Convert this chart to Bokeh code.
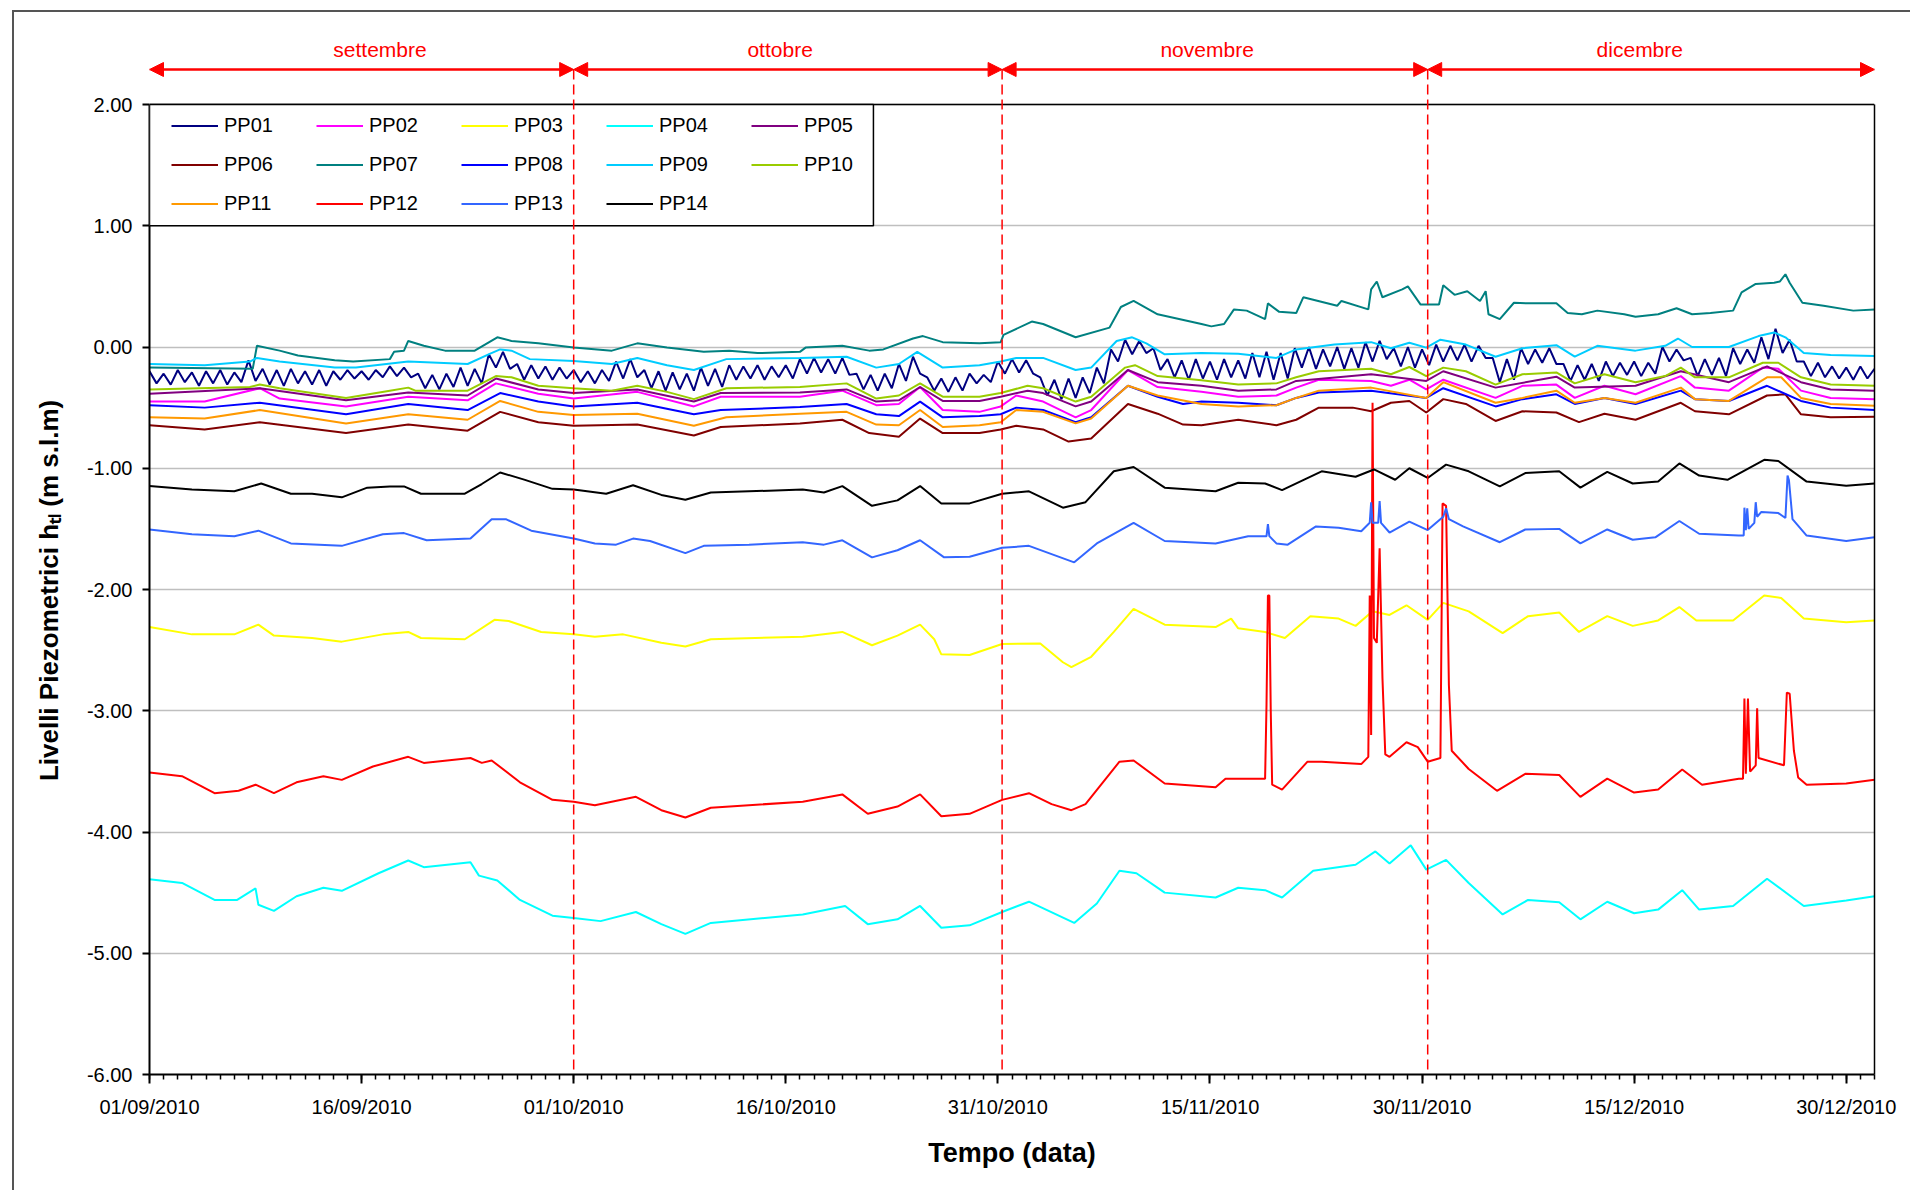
import numpy as np
import pandas as pd
from bokeh.plotting import figure
from bokeh.models import (Range1d, FixedTicker, DatetimeTickFormatter, NumeralTickFormatter,
                          Legend, LegendItem, Arrow, NormalHead, Label, Span, BoxAnnotation,
                          LinearAxis)
from bokeh.embed import file_html
from bokeh.resources import INLINE

# ---------------- data (days since 01/09/2010, level m s.l.m) ----------------
SERIES = ["PP01", "PP02", "PP03", "PP04", "PP05", "PP06", "PP07",
          "PP08", "PP09", "PP10", "PP11", "PP12", "PP13", "PP14"]
COLORS = ["#000080", "#FF00FF", "#FFFF00", "#00FFFF", "#800080", "#800000", "#008080",
          "#0000FF", "#00CCFF", "#99CC00", "#FF9900", "#FF0000", "#3366FF", "#000000"]

TICK_LABELS = ["01/09/2010", "16/09/2010", "01/10/2010", "16/10/2010", "31/10/2010",
               "15/11/2010", "30/11/2010", "15/12/2010", "30/12/2010"]
Y_TICKS = [-6, -5, -4, -3, -2, -1, 0, 1, 2]
MONTHS = ["settembre", "ottobre", "novembre", "dicembre"]

PP01_DAYS = list(np.arange(0, 122.5, 0.5))
PP01_VALS = [
    -0.20, -0.30, -0.22, -0.31, -0.19, -0.29, -0.21, -0.32, -0.20, -0.30,
    -0.19, -0.31, -0.21, -0.29, -0.11, -0.28, -0.18, -0.31, -0.19, -0.32,
    -0.18, -0.30, -0.20, -0.31, -0.19, -0.32, -0.20, -0.27, -0.19, -0.26,
    -0.20, -0.27, -0.19, -0.25, -0.16, -0.24, -0.17, -0.25, -0.22, -0.34,
    -0.23, -0.35, -0.22, -0.33, -0.17, -0.32, -0.18, -0.30, -0.06, -0.17,
    -0.04, -0.18, -0.14, -0.27, -0.15, -0.26, -0.16, -0.27, -0.17, -0.26,
    -0.19, -0.29, -0.20, -0.30, -0.19, -0.28, -0.12, -0.26, -0.10, -0.25,
    -0.19, -0.34, -0.20, -0.36, -0.21, -0.35, -0.22, -0.36, -0.17, -0.32,
    -0.18, -0.33, -0.15, -0.27, -0.16, -0.26, -0.15, -0.27, -0.16, -0.25,
    -0.15, -0.26, -0.10, -0.22, -0.09, -0.21, -0.10, -0.22, -0.09, -0.23,
    -0.22, -0.35, -0.23, -0.36, -0.22, -0.34, -0.14, -0.28, -0.08, -0.22,
    -0.25, -0.36, -0.26, -0.37, -0.25, -0.36, -0.22, -0.30, -0.23, -0.29,
    -0.12, -0.22, -0.10, -0.21, -0.11, -0.22, -0.25, -0.40, -0.27, -0.43,
    -0.26, -0.42, -0.25, -0.38, -0.17, -0.30, -0.02, -0.12, 0.06, -0.06,
    0.05, -0.05, -0.01, -0.19, -0.10, -0.25, -0.11, -0.27, -0.10, -0.26,
    -0.12, -0.27, -0.10, -0.25, -0.11, -0.26, -0.05, -0.25, -0.04, -0.27,
    -0.05, -0.26, -0.01, -0.17, 0.00, -0.18, -0.02, -0.16, 0.00, -0.18,
    -0.01, -0.17, 0.04, -0.12, 0.05, -0.10, -0.01, -0.16, 0.00, -0.17,
    -0.02, -0.15, 0.02, -0.12, 0.01, -0.11, 0.02, -0.12, 0.01, -0.09,
    -0.09, -0.29, -0.10, -0.27, -0.01, -0.14, -0.02, -0.13, -0.01, -0.14,
    -0.14, -0.28, -0.15, -0.27, -0.14, -0.28, -0.12, -0.24, -0.13, -0.23,
    -0.12, -0.24, -0.13, -0.22, 0.00, -0.12, -0.02, -0.11, -0.09, -0.24,
    -0.10, -0.23, -0.09, -0.24, -0.01, -0.14, -0.02, -0.13, 0.08, -0.10,
    0.15, -0.05, 0.06, -0.12, -0.12, -0.24, -0.13, -0.25, -0.16, -0.26,
    -0.17, -0.27, -0.16, -0.26, -0.18,
]

PP02_DAYS = [0, 3.9, 7.8, 9.2, 13.9, 18.3, 22.5, 24.5, 27.5, 30, 34.5, 38.5, 40.4, 46, 49,
             51.4, 53, 54.5, 56.1, 58.7, 60.2, 61.3, 63.2, 65.5, 66.6, 69.2, 71.3, 74.4, 77,
             79.7, 81.1, 82.7, 86.4, 87.8, 89.1, 90.3, 91.5, 95.2, 97.1, 99.5, 100.8, 102.9,
             105.1, 108.3, 109.3, 111.7, 114.1, 115.2, 116.8, 118.9, 122]
PP02_VALS = [-0.45, -0.45, -0.34, -0.425, -0.49, -0.41, -0.44, -0.30, -0.385, -0.425, -0.37,
             -0.49, -0.41, -0.41, -0.36, -0.48, -0.47, -0.33, -0.52, -0.535, -0.49, -0.40,
             -0.45, -0.58, -0.52, -0.19, -0.33, -0.37, -0.41, -0.40, -0.335, -0.27, -0.28,
             -0.32, -0.27, -0.35, -0.27, -0.42, -0.32, -0.31, -0.42, -0.32, -0.39, -0.24,
             -0.335, -0.36, -0.17, -0.18, -0.36, -0.42, -0.43]

PP03_DAYS = [0, 3, 6, 7.7, 8.8, 11.5, 13.6, 16.5, 18.3, 19.2, 22.3, 24.4, 25.4, 27.7, 30,
             31.5, 33.5, 36.2, 37.9, 39.7, 46.2, 49, 51.1, 52.9, 54.5, 55.5, 56, 58, 60.3,
             63, 64.6, 65.2, 66.6, 68.2, 69.6, 71.8, 75.4, 76.5, 77, 78.9, 80.3, 82.1, 84.1,
             85.3, 86.5, 87.7, 88.9, 90.4, 91.5, 93.3, 95.7, 97.5, 99.7, 101.1, 103.1, 104.9,
             106.7, 108.2, 109.4, 112, 114.2, 115.4, 117, 120, 122]
PP03_VALS = [-2.31, -2.37, -2.37, -2.29, -2.38, -2.40, -2.43, -2.37, -2.35, -2.40, -2.41,
             -2.25, -2.26, -2.35, -2.37, -2.39, -2.37, -2.44, -2.47, -2.41, -2.39, -2.35,
             -2.46, -2.38, -2.29, -2.41, -2.535, -2.54, -2.45, -2.445, -2.60, -2.64, -2.555,
             -2.35, -2.16, -2.29, -2.31, -2.24, -2.32, -2.35, -2.40, -2.22, -2.24, -2.30,
             -2.18, -2.21, -2.13, -2.25, -2.11, -2.18, -2.36, -2.22, -2.19, -2.35, -2.22,
             -2.30, -2.255, -2.145, -2.255, -2.255, -2.05, -2.07, -2.24, -2.27, -2.255]

PP04_DAYS = [0, 2.3, 4.6, 6.2, 7.5, 7.7, 8.8, 10.4, 12.3, 13.6, 16.2, 18.3, 19.4, 22.7, 23.3,
             24.6, 26.2, 28.5, 30, 31.9, 34.4, 36.2, 37.9, 39.7, 46.2, 49.2, 50.8, 52.9, 54.5,
             56, 58, 60.3, 62.2, 65.4, 67, 68.6, 69.8, 71.8, 75.4, 77, 78.9, 80.1, 82.3,
             85.3, 86.7, 87.7, 89.2, 90.3, 91.7, 93.3, 95.7, 97.5, 99.7, 101.2, 103.1, 105,
             106.7, 108.4, 109.6, 112, 114.4, 117, 120, 122]
PP04_VALS = [-4.39, -4.42, -4.56, -4.56, -4.465, -4.60, -4.65, -4.53, -4.46, -4.485, -4.34,
             -4.235, -4.29, -4.25, -4.36, -4.40, -4.56, -4.69, -4.71, -4.735, -4.66, -4.76,
             -4.84, -4.75, -4.68, -4.61, -4.76, -4.72, -4.61, -4.79, -4.77, -4.66, -4.575,
             -4.75, -4.59, -4.32, -4.34, -4.50, -4.54, -4.46, -4.48, -4.54, -4.32, -4.27,
             -4.16, -4.26, -4.11, -4.31, -4.23, -4.42, -4.68, -4.56, -4.58, -4.72, -4.575,
             -4.67, -4.64, -4.48, -4.64, -4.61, -4.385, -4.61, -4.565, -4.53]

PP05_DAYS = [0, 7.8, 13.9, 18.3, 22.5, 24.5, 27.5, 30, 34.5, 38.5, 40.4, 46, 49.3, 51.4, 53,
             54.5, 56.1, 58.7, 60.2, 62.1, 63.2, 65.5, 66.6, 69.2, 71.3, 74.4, 77, 79.7, 81.1,
             86.4, 90.3, 91.5, 95.2, 99.5, 100.8, 105.1, 108.3, 111.7, 114.4, 116.8, 118.9, 122]
PP05_VALS = [-0.385, -0.34, -0.44, -0.375, -0.40, -0.26, -0.35, -0.38, -0.35, -0.45, -0.38,
             -0.375, -0.35, -0.45, -0.44, -0.33, -0.445, -0.445, -0.41, -0.36, -0.38, -0.49,
             -0.45, -0.19, -0.29, -0.32, -0.36, -0.35, -0.28, -0.225, -0.28, -0.20, -0.335,
             -0.245, -0.335, -0.32, -0.20, -0.29, -0.16, -0.29, -0.35, -0.36]

PP06_DAYS = [0, 3.9, 7.8, 13.9, 18.3, 22.5, 24.8, 27.5, 30, 34.5, 38.5, 40.4, 46, 49, 50.9,
             53, 54.5, 56.1, 58.7, 60.2, 61.3, 63.2, 65, 66.6, 69.2, 71.3, 73.1, 74.4, 77,
             79.7, 81.1, 82.7, 85.1, 86.4, 87.8, 89.1, 90.3, 91.5, 93.1, 95.2, 97.1, 99.5,
             101.1, 102.9, 105.1, 108.3, 109.3, 111.7, 114.4, 115.7, 116.8, 118.9, 122]
PP06_VALS = [-0.645, -0.68, -0.62, -0.71, -0.64, -0.69, -0.535, -0.62, -0.65, -0.64, -0.73,
             -0.66, -0.63, -0.60, -0.71, -0.74, -0.59, -0.71, -0.71, -0.68, -0.65, -0.68,
             -0.78, -0.755, -0.47, -0.55, -0.64, -0.645, -0.60, -0.645, -0.60, -0.50, -0.50,
             -0.53, -0.46, -0.445, -0.54, -0.43, -0.47, -0.61, -0.53, -0.54, -0.62, -0.55,
             -0.60, -0.46, -0.53, -0.555, -0.40, -0.39, -0.555, -0.58, -0.575]

PP07_DAYS = [0, 7.3, 7.6, 9.2, 10.5, 13.1, 14.4, 17, 17.3, 18, 18.3, 19.4, 20.9, 23, 24.6,
             25.6, 27.5, 30, 32.7, 34.5, 36.6, 39.2, 41, 43, 46, 46.4, 49, 50.9, 51.9, 54,
             54.7, 56.1, 58.7, 60.2, 60.4, 62.4, 63.2, 65.5, 67.9, 68.7, 69.6, 71.3, 74.4,
             75.1, 76, 76.7, 77.6, 78.9, 79.1, 79.9, 81.1, 81.6, 84, 84.3, 86.2, 86.4, 86.8,
             87.2, 88.6, 89, 89.9, 91.2, 91.5, 92.3, 93.2, 94.1, 94.5, 94.7, 95.5, 96.5,
             97.6, 99.5, 100.3, 101.3, 102.4, 104.3, 105.1, 106.7, 108, 109.1, 110.4, 112,
             112.6, 113.6, 114.9, 115.3, 115.7, 116, 116.9, 118.4, 120.5, 122]
PP07_VALS = [-0.17, -0.18, 0.01, -0.03, -0.07, -0.11, -0.12, -0.10, -0.04, -0.03, 0.05, 0.01,
             -0.03, -0.03, 0.08, 0.05, 0.03, -0.005, -0.03, 0.03, -0.005, -0.04, -0.03, -0.05,
             -0.04, -0.005, 0.01, -0.03, -0.02, 0.07, 0.09, 0.04, 0.03, 0.04, 0.10, 0.21,
             0.19, 0.08, 0.16, 0.33, 0.38, 0.27, 0.19, 0.17, 0.19, 0.31, 0.30, 0.23, 0.36,
             0.29, 0.28, 0.41, 0.34, 0.38, 0.31, 0.475, 0.54, 0.41, 0.475, 0.50, 0.35, 0.35,
             0.51, 0.43, 0.46, 0.38, 0.46, 0.27, 0.23, 0.365, 0.36, 0.36, 0.28, 0.27, 0.30,
             0.27, 0.25, 0.27, 0.32, 0.27, 0.28, 0.30, 0.45, 0.52, 0.53, 0.54, 0.60, 0.53,
             0.365, 0.34, 0.30, 0.31]

PP08_DAYS = [0, 3.9, 7.8, 13.9, 18.3, 22.5, 24.8, 27.5, 30, 34.5, 38.5, 40.4, 46, 49.3, 51.4,
             53, 54.5, 56.1, 58.7, 60.2, 61.3, 63.2, 65.5, 66.6, 69.2, 71.3, 73.1, 74.4, 77,
             79.7, 81.1, 82.7, 86.4, 90.3, 91.5, 95.2, 97.1, 99.5, 100.8, 102.9, 105.1, 108.3,
             109.3, 111.7, 114.4, 116.8, 118.9, 122]
PP08_VALS = [-0.48, -0.50, -0.46, -0.555, -0.47, -0.52, -0.38, -0.45, -0.49, -0.46, -0.555,
             -0.52, -0.495, -0.47, -0.555, -0.57, -0.45, -0.58, -0.57, -0.555, -0.50, -0.52,
             -0.62, -0.58, -0.32, -0.41, -0.47, -0.45, -0.46, -0.48, -0.42, -0.375, -0.36,
             -0.42, -0.34, -0.49, -0.43, -0.39, -0.47, -0.42, -0.47, -0.36, -0.43, -0.445,
             -0.32, -0.445, -0.50, -0.52]

PP09_DAYS = [0, 3.9, 7.1, 7.6, 9.2, 13.1, 14.6, 18.3, 22.5, 24.1, 24.8, 25.6, 26.9, 30, 32.7,
             34.5, 36.6, 38.5, 40.8, 46, 49.3, 51.4, 53, 54.3, 56.1, 58.7, 60.2, 61.3, 63.2,
             65.5, 66.6, 68.4, 69.5, 70.5, 71.8, 74.4, 77, 79.7, 81.1, 83.8, 86.4, 87.8, 89.1,
             90.3, 91.3, 93.1, 95.2, 97.1, 99.5, 100.8, 102.4, 105.1, 107.2, 108.1, 109.1,
             111.7, 113.8, 114.9, 115.7, 117, 118.9, 122]
PP09_VALS = [-0.14, -0.15, -0.12, -0.09, -0.12, -0.17, -0.17, -0.12, -0.14, -0.055, -0.02,
             -0.03, -0.10, -0.115, -0.14, -0.09, -0.15, -0.19, -0.10, -0.09, -0.08, -0.17,
             -0.14, -0.04, -0.17, -0.15, -0.12, -0.09, -0.09, -0.19, -0.17, 0.05, 0.08, 0.03,
             -0.06, -0.05, -0.055, -0.09, -0.02, 0.02, 0.04, -0.01, 0.035, -0.005, 0.06, 0.02,
             -0.08, -0.01, 0.015, -0.08, 0.01, -0.03, 0.01, 0.07, 0.0, 0.0, 0.09, 0.12, 0.08,
             -0.05, -0.066, -0.074]

PP10_DAYS = [0, 7.1, 7.8, 9.2, 13.9, 17, 18.3, 18.8, 22.5, 24.5, 25.6, 27.5, 30, 32.7, 34.5,
             36.6, 38.5, 40.8, 46, 49.3, 51.4, 53, 54.5, 56.1, 58.7, 60.2, 62.1, 63.2, 65.5,
             66.6, 69, 69.7, 71.3, 74.4, 77, 79.7, 81.1, 82.7, 86.4, 87.8, 89.1, 90.3, 91.5,
             93.1, 95.2, 97.1, 99.5, 100.8, 102.9, 105.1, 107.2, 108.3, 109.3, 111.7, 114.1,
             115.2, 116.8, 118.9, 122]
PP10_VALS = [-0.35, -0.33, -0.31, -0.34, -0.42, -0.36, -0.335, -0.36, -0.36, -0.24, -0.25,
             -0.32, -0.34, -0.36, -0.32, -0.37, -0.43, -0.34, -0.33, -0.30, -0.425, -0.40,
             -0.30, -0.41, -0.41, -0.38, -0.32, -0.34, -0.45, -0.41, -0.17, -0.15, -0.24,
             -0.275, -0.31, -0.30, -0.25, -0.20, -0.18, -0.225, -0.165, -0.24, -0.17, -0.20,
             -0.31, -0.225, -0.21, -0.30, -0.225, -0.29, -0.24, -0.17, -0.25, -0.25, -0.13,
             -0.13, -0.25, -0.31, -0.32]

PP11_DAYS = [0, 3.9, 7.8, 13.9, 18.3, 22.5, 24.8, 27.5, 30, 34.5, 38.5, 40.8, 46, 49.3, 51.4,
             53, 54.5, 56.1, 58.7, 60.2, 61.3, 63.2, 65.5, 66.6, 69.2, 71.3, 74.4, 77, 79.7,
             81.1, 82.7, 86.4, 90.3, 91.5, 95.2, 97.1, 99.5, 100.8, 102.9, 105.1, 108.3, 109.3,
             111.7, 114.4, 115.4, 116.8, 118.9, 122]
PP11_VALS = [-0.58, -0.59, -0.52, -0.63, -0.555, -0.60, -0.445, -0.535, -0.56, -0.55, -0.65,
             -0.58, -0.55, -0.535, -0.64, -0.645, -0.52, -0.66, -0.645, -0.62, -0.52, -0.535,
             -0.63, -0.59, -0.32, -0.40, -0.47, -0.49, -0.48, -0.42, -0.36, -0.335, -0.42,
             -0.29, -0.46, -0.42, -0.36, -0.46, -0.42, -0.46, -0.335, -0.43, -0.445, -0.25,
             -0.25, -0.42, -0.47, -0.485]

PP12_DAYS = [0, 2.3, 4.6, 6.3, 7.5, 8.8, 10.4, 12.3, 13.6, 15.8, 18.3, 19.4, 22.7, 23.5, 24.2,
             26.2, 28.5, 30, 31.5, 34.4, 36.2, 37.9, 39.7, 46.2, 49, 50.8, 52.9, 54.5, 56, 58,
             60.3, 62.2, 63.8, 65.2, 66.2, 68.6, 69.6, 71.8, 75.4, 76.1, 78.9, 79.0, 79.1,
             79.2, 79.3, 79.4, 80.1, 81.9, 82.9, 85.7, 86.2, 86.3, 86.4, 86.5, 86.6, 86.8,
             87.0, 87.2, 87.4, 87.7, 88.9, 89.7, 90.4, 91.3, 91.45, 91.7, 91.9, 92.1, 93.3,
             95.3, 97.3, 99.7, 101.2, 103.1, 105, 106.7, 108.4, 109.8, 112.4, 112.7, 112.8,
             112.9, 113.05, 113.2, 113.3, 113.6, 113.7, 113.8, 115.6, 115.8, 116.0, 116.3,
             116.6, 117.2, 120, 122]
PP12_VALS = [-3.51, -3.54, -3.68, -3.66, -3.61, -3.68, -3.59, -3.54, -3.57, -3.46, -3.38,
             -3.43, -3.39, -3.43, -3.41, -3.59, -3.735, -3.75, -3.78, -3.71, -3.82, -3.88,
             -3.80, -3.75, -3.69, -3.85, -3.79, -3.69, -3.87, -3.85, -3.735, -3.68, -3.77,
             -3.82, -3.77, -3.42, -3.41, -3.60, -3.63, -3.56, -3.56, -2.95, -2.05, -2.05,
             -3.00, -3.61, -3.65, -3.42, -3.42, -3.44, -3.38, -2.05, -3.20, -0.46, -2.40,
             -2.44, -1.66, -2.73, -3.36, -3.38, -3.26, -3.30, -3.42, -3.39, -1.29, -1.31,
             -2.79, -3.33, -3.48, -3.66, -3.52, -3.53, -3.71, -3.56, -3.675, -3.65, -3.485,
             -3.61, -3.56, -3.56, -2.90, -3.52, -2.90, -3.50, -3.49, -3.45, -2.98, -3.39,
             -3.45, -2.85, -2.86, -3.33, -3.55, -3.61, -3.60, -3.57]

PP13_DAYS = [0, 3, 6, 7.7, 10, 13.6, 16.5, 18, 19.6, 22.7, 24.2, 25.2, 27, 30, 31.5, 33,
             34.2, 35.4, 37.9, 39.2, 42.4, 46.2, 47.7, 49, 51.1, 52.9, 54.5, 56.2, 58, 60.3,
             62.2, 65.4, 67, 69.6, 71.8, 75.4, 77.7, 79.0, 79.1, 79.2, 79.7, 80.5, 82.5, 84.1,
             85.7, 86.3, 86.4, 86.5, 86.9, 87.0, 87.1, 87.7, 89.1, 90.4, 91.5, 91.7, 91.9,
             92.9, 95.5, 97.3, 99.7, 101.2, 103.1, 104.9, 106.5, 108.2, 109.6, 112.4, 112.75,
             112.8, 112.9, 113.0, 113.1, 113.5, 113.6, 113.7, 114, 115.2, 115.7, 115.85,
             115.95, 116.2, 117.2, 120, 122]
PP13_VALS = [-1.506, -1.544, -1.56, -1.515, -1.62, -1.64, -1.544, -1.535, -1.594, -1.58,
             -1.42, -1.42, -1.515, -1.58, -1.62, -1.63, -1.58, -1.60, -1.70, -1.64, -1.63,
             -1.61, -1.63, -1.594, -1.735, -1.676, -1.594, -1.735, -1.73, -1.656, -1.64,
             -1.776, -1.62, -1.45, -1.60, -1.62, -1.56, -1.56, -1.46, -1.56, -1.62, -1.63,
             -1.48, -1.49, -1.52, -1.45, -1.28, -1.45, -1.45, -1.27, -1.45, -1.53, -1.44,
             -1.51, -1.40, -1.33, -1.42, -1.48, -1.61, -1.505, -1.50, -1.62, -1.505, -1.59,
             -1.57, -1.435, -1.54, -1.555, -1.555, -1.325, -1.51, -1.33, -1.50, -1.45, -1.28,
             -1.40, -1.36, -1.37, -1.41, -1.06, -1.10, -1.42, -1.555, -1.60, -1.57]

PP14_DAYS = [0, 3, 6, 7.9, 10, 11.5, 13.6, 15.4, 17, 18, 19.2, 22.3, 23.5, 24.8, 26.5, 28.5,
             30, 32.3, 34.2, 36.2, 37.9, 39.7, 42.4, 46.2, 47.7, 49, 51.1, 52.9, 54.5, 56, 58,
             60.3, 62.2, 64.6, 66.2, 68.2, 69.6, 71.8, 75.4, 77, 78.9, 80.1, 82.9, 85.3, 86.6,
             88.1, 89.1, 90.4, 91.7, 93.3, 95.5, 97.3, 99.7, 101.2, 103.1, 104.9, 106.7,
             108.2, 109.6, 111.6, 114.2, 115.2, 117.2, 120, 122]
PP14_VALS = [-1.147, -1.176, -1.19, -1.126, -1.21, -1.21, -1.24, -1.16, -1.15, -1.15, -1.21,
             -1.21, -1.13, -1.035, -1.094, -1.17, -1.176, -1.21, -1.14, -1.22, -1.26, -1.20,
             -1.19, -1.176, -1.20, -1.147, -1.31, -1.265, -1.147, -1.29, -1.29, -1.21, -1.19,
             -1.325, -1.28, -1.025, -0.99, -1.16, -1.19, -1.12, -1.126, -1.18, -1.025, -1.07,
             -1.01, -1.095, -1.00, -1.08, -0.97, -1.025, -1.15, -1.04, -1.025, -1.16, -1.03,
             -1.126, -1.11, -0.96, -1.06, -1.095, -0.93, -0.94, -1.11, -1.145, -1.126]

DATA_DAYS = [PP01_DAYS, PP02_DAYS, PP03_DAYS, PP04_DAYS, PP05_DAYS, PP06_DAYS, PP07_DAYS,
             PP08_DAYS, PP09_DAYS, PP10_DAYS, PP11_DAYS, PP12_DAYS, PP13_DAYS, PP14_DAYS]
DATA_VALS = [PP01_VALS, PP02_VALS, PP03_VALS, PP04_VALS, PP05_VALS, PP06_VALS, PP07_VALS,
             PP08_VALS, PP09_VALS, PP10_VALS, PP11_VALS, PP12_VALS, PP13_VALS, PP14_VALS]

# ---------------- layout constants ----------------
START = pd.Timestamp("2010-09-01")
MONTH_BOUNDS = [0, 30, 60.3, 90.4, 122]     # month separators (days)
MONTH_LABEL_AT = [16.3, 44.6, 74.8, 105.4]  # label centres (days)
FONT = "Liberation Sans"
W, H = 1898, 1180
PLOT_PX = 970          # pixel height of the -6..2 band
HEADER_PX = 92         # pixels above 2.00 reserved for month arrows
Y_TOP = 2 + HEADER_PX * 8.0 / PLOT_PX
ARROW_Y = 2 + 35 * 8.0 / PLOT_PX
LABEL_Y = 2 + 55 * 8.0 / PLOT_PX
# trailing no-break spaces recentre the rotated title on the -6..2 band
Y_TITLE = "Livelli Piezometrici h\u209c\u2097 (m s.l.m)" + "\u00a0" * 13


def to_dt(days):
    return START + pd.to_timedelta(np.asarray(days, dtype=float), unit="D")


def ms(day):
    return (START + pd.Timedelta(days=float(day))).value / 1e6


p = figure(width=W, height=H, x_axis_type="datetime",
           output_backend="svg", toolbar_location=None,
           x_range=Range1d(ms(0), ms(122)), y_range=Range1d(-6, Y_TOP),
           min_border_left=135, min_border_right=38, min_border_top=0,
           min_border_bottom=118)
p.margin = (10, 0, 0, 12)
p.styles = {"border-left": "2px solid #555555", "border-top": "2px solid #555555"}
p.background_fill_color = "white"
p.border_fill_color = "white"
p.outline_line_color = None

renderers = []
for name, col, d, v in zip(SERIES, COLORS, DATA_DAYS, DATA_VALS):
    assert len(d) == len(v), name
    r = p.line(to_dt(d), v, line_color=col, line_width=2)
    renderers.append(r)

# axes
xa = p.xaxis[0]
ya = p.yaxis[0]
tick_ms = [pd.to_datetime(t, format="%d/%m/%Y").value / 1e6 for t in TICK_LABELS]
xa.ticker = FixedTicker(ticks=tick_ms, minor_ticks=[ms(d) for d in range(0, 123)])
fmt = "%d/%m/%Y"
xa.formatter = DatetimeTickFormatter(microseconds=fmt, milliseconds=fmt, seconds=fmt, minsec=fmt,
                                     minutes=fmt, hourmin=fmt, hours=fmt, days=fmt,
                                     months=fmt, years=fmt)
ya.ticker = FixedTicker(ticks=Y_TICKS)
ya.formatter = NumeralTickFormatter(format="0.00")
ya.bounds = (-6, 2)

for ax in (xa, ya):
    ax.axis_line_color = "black"
    ax.axis_line_width = 2
    ax.major_tick_line_color = "black"
    ax.major_tick_line_width = 2
    ax.major_tick_in = 0
    ax.major_label_text_font = FONT
    ax.major_label_text_font_size = "20px"
    ax.major_label_text_color = "black"
    ax.axis_label_text_font = FONT
    ax.axis_label_text_font_style = "bold"
    ax.axis_label_text_color = "black"

xa.major_tick_out = 9
xa.minor_tick_out = 5
xa.minor_tick_in = 0
xa.minor_tick_line_color = "black"
xa.minor_tick_line_width = 1.5
xa.major_label_standoff = 12
xa.axis_label = "Tempo (data)"
xa.axis_label_text_font_size = "27px"
xa.axis_label_standoff = 17

ya.major_tick_out = 7
ya.minor_tick_out = 0
ya.minor_tick_line_color = None
ya.major_label_standoff = 10
ya.axis_label = Y_TITLE
ya.axis_label_text_font_size = "26px"
ya.axis_label_standoff = 20

# right frame edge as a bare axis
ra = LinearAxis(bounds=(-6, 2), ticker=FixedTicker(ticks=[]), axis_line_color="black",
                axis_line_width=1.5, major_tick_line_color=None, minor_tick_line_color=None,
                major_label_text_alpha=0.0, major_label_text_font_size="1px")
p.add_layout(ra, "right")

p.xgrid.visible = False
p.ygrid.grid_line_color = "#bfbfbf"
p.ygrid.grid_line_width = 1.5

# top frame edge
p.add_layout(Span(location=2.0, dimension="width", line_color="black", line_width=1.5))

# legend box + legend
p.add_layout(BoxAnnotation(left=ms(0), right=ms(51.2), top=2.0, bottom=1.0,
                           fill_color="white", fill_alpha=1.0,
                           line_color="black", line_alpha=1.0, line_width=1.5))
items = [LegendItem(label=n, renderers=[r]) for n, r in zip(SERIES, renderers)]
legend = Legend(items=items, location=(22, PLOT_PX + 2 - 121), orientation="horizontal", ncols=5,
                label_text_font=FONT, label_text_font_size="20px", label_text_color="black",
                glyph_width=47, glyph_height=39, label_height=39, label_width=92,
                label_standoff=6, spacing=0, padding=2, margin=0,
                border_line_color=None, background_fill_alpha=0.0)
p.add_layout(legend)

# month arrows, labels and separators
for i, m in enumerate(MONTHS):
    a, b = MONTH_BOUNDS[i], MONTH_BOUNDS[i + 1]
    p.add_layout(Arrow(start=NormalHead(size=14, fill_color="red", line_color="red"),
                       end=NormalHead(size=14, fill_color="red", line_color="red"),
                       x_start=ms(a), y_start=ARROW_Y, x_end=ms(b), y_end=ARROW_Y,
                       line_color="red", line_width=2.5))
    p.add_layout(Label(x=ms(MONTH_LABEL_AT[i]), y=LABEL_Y, text=m, text_align="center",
                       text_baseline="middle", text_color="red", text_font=FONT,
                       text_font_size="21px"))
for b in MONTH_BOUNDS[1:-1]:
    p.add_layout(Arrow(end=None, x_start=ms(b), y_start=ARROW_Y, x_end=ms(b), y_end=-6,
                       line_color="red", line_width=1.5, line_dash="10 5"))

open("out.html", "w").write(file_html(p, INLINE))
